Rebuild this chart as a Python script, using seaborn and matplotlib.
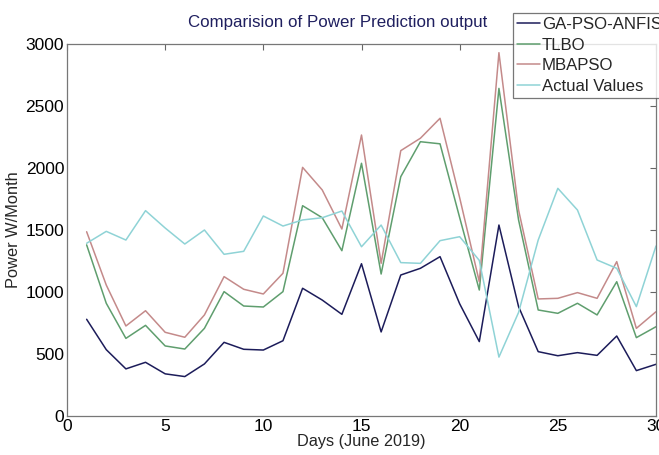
import numpy as np
import pandas as pd
import matplotlib
matplotlib.use("Agg")
import matplotlib.pyplot as plt
import seaborn as sns
from matplotlib.lines import Line2D

days = list(range(1, 31))
ga_pso_anfis = [780, 535, 380, 433, 340, 318, 420, 594, 538, 532, 607, 1030, 935, 820, 1228,
                678, 1137, 1191, 1285, 905, 600, 1540, 882, 519, 486, 511, 489, 645, 366, 417]
tlbo = [1380, 909, 626, 731, 565, 540, 707, 1003, 887, 879, 1003, 1696, 1599, 1333, 2038,
        1145, 1930, 2212, 2195, 1600, 1016, 2642, 1581, 855, 828, 909, 815, 1083, 632, 720]
mbapso = [1486, 1056, 726, 849, 675, 635, 815, 1124, 1022, 984, 1151, 2005, 1823, 1508, 2266,
          1231, 2140, 2240, 2401, 1760, 1083, 2930, 1661, 944, 949, 995, 949, 1245, 707, 841]
actual = [1393, 1489, 1419, 1656, 1516, 1387, 1500, 1304, 1328, 1613, 1532, 1581, 1599, 1653, 1365,
          1540, 1237, 1231, 1414, 1446, 1255, 475, 835, 1419, 1836, 1661, 1258, 1191, 882, 1371]
series_names = ["GA-PSO-ANFIS", "TLBO", "MBAPSO", "Actual Values"]
colors = ["#1c1c5a", "#5f9e6e", "#c48a8a", "#8fd3d6"]

df = pd.concat([
    pd.DataFrame({"Day": days, "Power": vals, "Series": name})
    for name, vals in zip(series_names, [ga_pso_anfis, tlbo, mbapso, actual])
])

sns.set_theme(style="white")
plt.rcParams['font.family'] = ['Liberation Sans', 'DejaVu Sans']

fig = plt.figure(figsize=(6.59, 4.55), dpi=100)
ax = fig.add_axes([67/659, 1 - 416/455, (656 - 67)/659, (416 - 44)/455])

sns.lineplot(data=df, x="Day", y="Power", hue="Series", palette=colors,
             hue_order=series_names, ax=ax, linewidth=1.1, legend=False)

ax.set_xlim(0, 30)
ax.set_ylim(0, 3000)
ax.set_xticks([0, 5, 10, 15, 20, 25, 30])
ax.set_yticks([0, 500, 1000, 1500, 2000, 2500, 3000])
ax.tick_params(direction="in", length=4, width=0.8, colors="#666666",
               labelcolor="black", labelsize=12.5, top=True, right=True, pad=2)
for s in ax.spines.values():
    s.set_color("#777777")
    s.set_linewidth(0.9)
ax.set_xlabel("Days (June 2019)", fontsize=11.7, labelpad=0)
ax.set_ylabel("Power W/Month", fontsize=11.8, labelpad=3)

fig.text(338/659, 1 - 22/455, "Comparision of Power Prediction output",
         ha="center", va="center", fontsize=12.2, color="#1f1f5f")

handles = [Line2D([0], [0], color=c, lw=1.1) for c in colors]
leg = fig.legend(handles, series_names, loc="upper left",
                 bbox_to_anchor=(513/659, 1 - 13/455), fontsize=12.1,
                 frameon=True, fancybox=False, borderpad=0.25, labelspacing=0.33,
                 handlelength=1.37, handletextpad=0.1, borderaxespad=0)
leg.get_frame().set_edgecolor("#555555")
leg.get_frame().set_linewidth(0.9)

fig.savefig("out.png", dpi=100)
